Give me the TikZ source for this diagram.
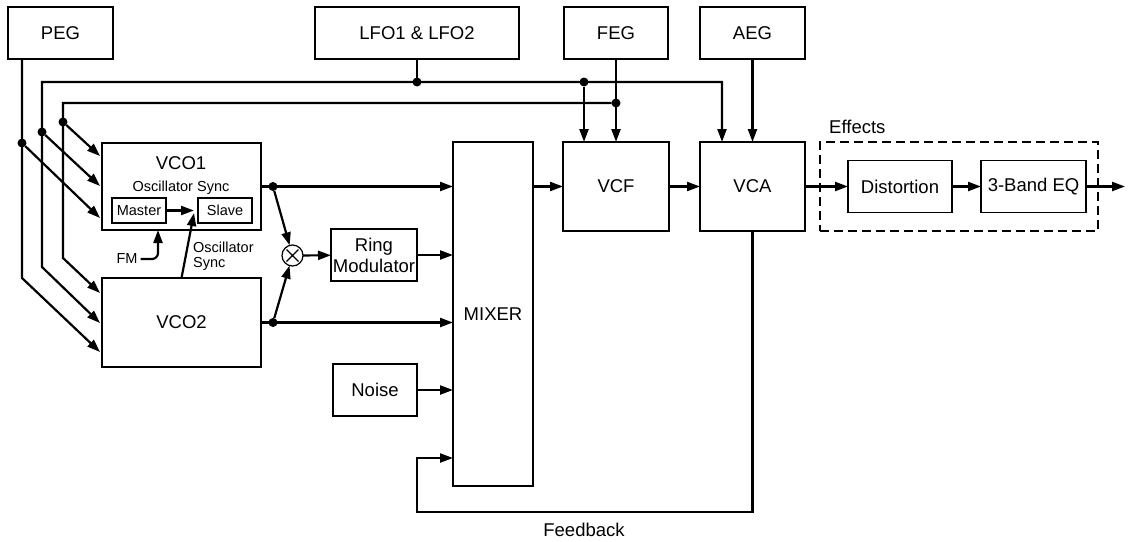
\documentclass[tikz,border=0pt]{standalone}
\usepackage{fontspec}
\setmainfont{Liberation Sans}
\usetikzlibrary{arrows.meta}

\begin{document}
\begin{tikzpicture}[x=1pt,y=-1pt,>={Triangle[length=13pt,width=9pt]}]
\tikzstyle{block}=[draw, line width=1.2pt, inner sep=0pt, outer sep=0pt, fill=white]
\tikzstyle{bigblock}=[block, line width=2.2pt]
\tikzstyle{sig}=[line width=2.2pt]
\tikzstyle{dot}=[circle, fill, inner sep=0pt, outer sep=0pt, minimum size=9pt]
\tikzstyle{smalllab}=[font=\fontsize{14.5}{15}\selectfont]
\fontsize{18.5}{21}\selectfont
\useasboundingbox (0,0) rectangle (1131,541);

% sources
\node [block, minimum width=105pt, minimum height=52pt] (peg) at (60.5,33) {PEG};
\node [block, minimum width=204pt, minimum height=52pt] (lfo) at (417,33) {LFO1 \& LFO2};
\node [block, minimum width=104pt, minimum height=52pt] (feg) at (616,33) {FEG};
\node [block, minimum width=105pt, minimum height=52pt] (aeg) at (752.5,33) {AEG};

% oscillators
\node [bigblock, minimum width=159pt, minimum height=87pt] (vco1) at (181.5,186.5) {};
\node (vco1lab) at (181,163) {VCO1};
\node [smalllab] (synchead) at (181,188) {Oscillator Sync};
\node [block, smalllab, minimum width=54pt, minimum height=25pt] (master) at (139,210.5) {Master};
\node [block, smalllab, minimum width=54pt, minimum height=25pt] (slave) at (225,210.5) {Slave};
\node [bigblock, minimum width=159pt, minimum height=89pt] (vco2) at (181.5,322.5) {VCO2};
\node [smalllab, inner sep=0pt] (fm) at (127,259) {FM};
\node [smalllab, inner sep=0pt, anchor=north west, align=left] (synclab) at (193,242) {Oscillator\\Sync};

\node [block, circle, minimum size=21pt] (mult) at (292.5,255.5) {};
\draw [line width=1.2pt] ([shift={(-6,-6)}]mult.center) -- ([shift={(6,6)}]mult.center)
  ([shift={(-6,6)}]mult.center) -- ([shift={(6,-6)}]mult.center);
\node [block, minimum width=86pt, minimum height=52pt, align=center] (ring) at (374,255) {Ring\\Modulator};
\node [block, minimum width=84pt, minimum height=52pt] (noise) at (375,390) {Noise};
\node [bigblock, minimum width=80pt, minimum height=344pt] (mixer) at (493,314) {MIXER};
\node [bigblock, minimum width=106pt, minimum height=89pt] (vcf) at (616,186.5) {VCF};
\node [bigblock, minimum width=105pt, minimum height=89pt] (vca) at (752.5,186.5) {VCA};

% effects
\node [draw, line width=2.2pt, dash pattern=on 9pt off 5pt, minimum width=278pt, minimum height=89pt, inner sep=0pt] (fx) at (959,186.5) {};
\node [anchor=west, inner sep=0pt] (fxlab) at (829,127) {Effects};
\node [block, minimum width=104pt, minimum height=52pt] (dist) at (900,186.5) {Distortion};
\node [block, minimum width=105pt, minimum height=52pt] (eq) at (1033.5,186.5) {3-Band EQ};
\coordinate (out) at (1125,186.5);

% junctions and bends
\node [dot] (pegdot) at (22,143) {};
\node [dot] (adot) at (42,132) {};
\node [dot] (bdot) at (63,122) {};
\node [dot] (lfodot) at (417,82) {};
\node [dot] (vcfdot) at (584,82) {};
\node [dot] (fegdot) at (616,103) {};
\node [dot] (v1dot) at (273,186.5) {};
\node [dot] (v2dot) at (273,322.5) {};
\coordinate (pegend) at (22,278);
\coordinate (aend) at (42,267);
\coordinate (acorner) at (42,82);
\coordinate (aturn) at (722,82);
\coordinate (bbot) at (63,258);
\coordinate (bcorner) at (63,103);
\coordinate (v1b) at (100,156);
\coordinate (v1a) at (100,186);
\coordinate (v1p) at (100,218);
\coordinate (v2b) at (100,293);
\coordinate (v2a) at (100,323);
\coordinate (v2p) at (100,352);
\coordinate (fmbend) at (158,259);
\coordinate (synctip) at (194,213);
\coordinate (fbturn) at (417,512);
\coordinate (fbin) at (453,458);

% modulation buses
\draw [sig, <-] (v2p) -- (pegend) -- ([xshift=14pt]peg.south west);
\draw [sig, <->] (v2a) -- (aend) -- (acorner) -- (aturn) -- (aturn |- vca.north);
\draw [sig, <-] (v2b) -- (bbot) -- (bcorner) -- (fegdot);
\draw [sig, ->] (pegdot) -- (v1p);
\draw [sig, ->] (adot) -- (v1a);
\draw [sig, ->] (bdot) -- (v1b);
\draw [sig] (lfo.south) -- (lfodot);
\draw [sig, ->] (vcfdot) -- (vcfdot |- vcf.north);
\draw [sig, ->] (feg.south) -- (vcf.north);
\draw [sig, ->] (aeg.south) -- (vca.north);

% oscillator section
\draw [sig, ->] (master) -- (master.east -| synctip);
\draw [sig, ->] (vco2.north) -- (synctip);
\draw [sig, ->, rounded corners=6pt] ([xshift=3pt]fm.east) -- (fmbend) -- (fmbend |- vco1.south);
\draw [sig, ->] (vco1.east) -- (mixer.west |- vco1.east);
\draw [sig, ->] (vco2.east) -- (mixer.west |- vco2.east);
\draw [sig, ->] (v1dot) -- (mult);
\draw [sig, ->] (v2dot) -- (mult);
\draw [sig, ->] (mult) -- (ring);
\draw [sig, ->] (ring) -- (ring -| mixer.west);
\draw [sig, ->] (noise) -- (noise -| mixer.west);

% main signal path
\draw [sig, ->] (mixer.east |- vcf.west) -- (vcf);
\draw [sig, ->] (vcf) -- (vca);
\draw [sig, ->] (vca) -- (dist);
\draw [sig, ->] (dist) -- (eq);
\draw [sig, ->] (eq) -- (out);
\draw [sig, ->] (vca.south) -- (vca.south |- fbturn) -- (fbturn) -- (fbturn |- fbin) -- (fbin);
\node (fblab) at (584,530) {Feedback};
\end{tikzpicture}
\end{document}
